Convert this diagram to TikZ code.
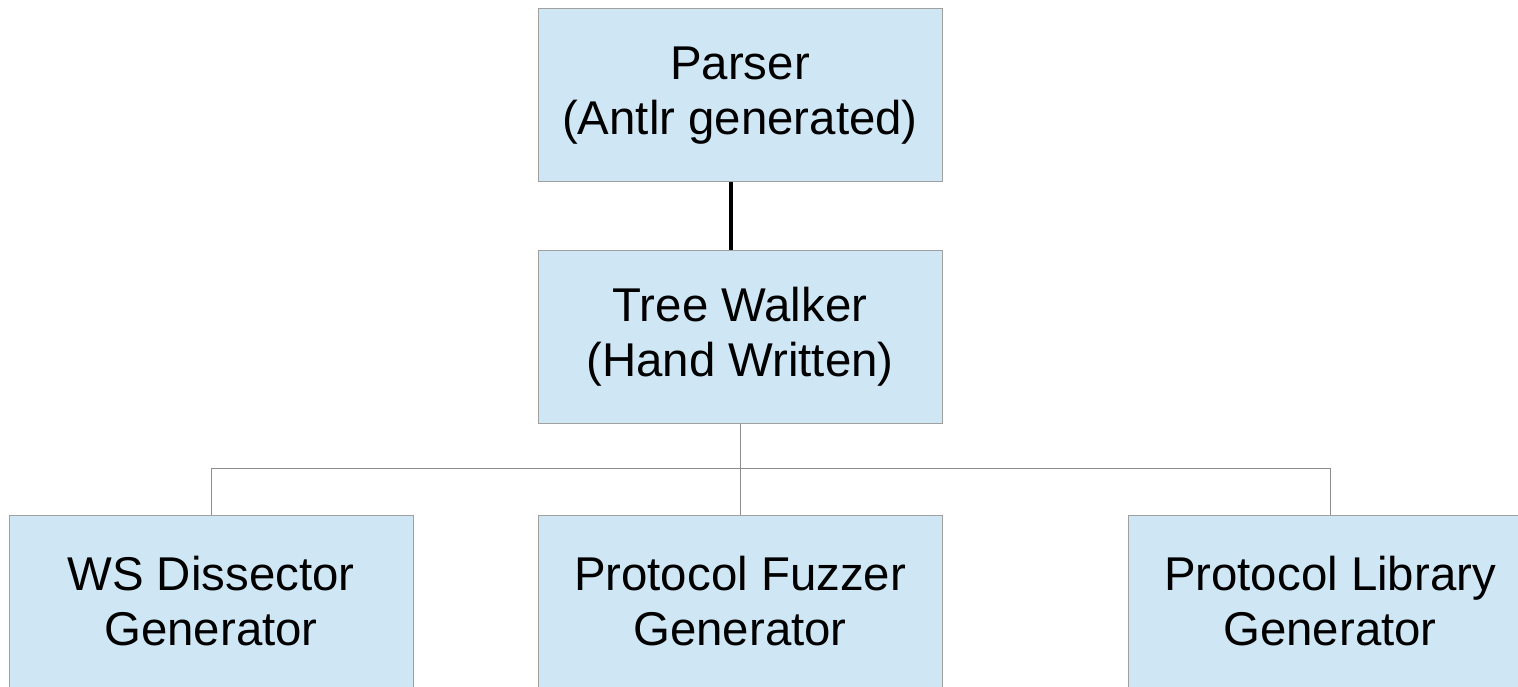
\documentclass[tikz,border=0pt]{standalone}
\usepackage{fontspec}
\setmainfont{Liberation Sans}
\definecolor{boxfill}{RGB}{207,231,245}
\definecolor{boxline}{RGB}{160,160,160}
\definecolor{linkgray}{RGB}{140,140,140}
\begin{document}
\begin{tikzpicture}[x=1pt,y=1pt,
  blk/.style={draw=boxline,fill=boxfill,line width=1pt,minimum width=404pt,minimum height=173pt,inner sep=0pt,align=center,font=\fontsize{47.4}{55}\selectfont},
  thinlink/.style={draw=linkgray,line width=1pt},
  thicklink/.style={draw=black,line width=4pt}]
\useasboundingbox (0,0) rectangle (1518,686);
\node[blk] (P) at (740,590.5) {Parser\\(Antlr generated)};
\node[blk] (T) at (740,349) {Tree Walker\\(Hand Written)};
\node[blk] (W) at (211,84.5) {WS Dissector\\Generator};
\node[blk] (F) at (740,84.5) {Protocol Fuzzer\\Generator};
\node[blk] (L) at (1330,84.5) {Protocol Library\\Generator};
\coordinate (hub) at (740,217);
\draw[thicklink] ([xshift=-9.5pt]P.south) -- ([xshift=-9.5pt]T.north);
\draw[thinlink] (T.south) -- (hub);
\draw[thinlink] (hub) -| (W.north);
\draw[thinlink] (hub) -- (F.north);
\draw[thinlink] (hub) -| (L.north);
\end{tikzpicture}
\end{document}
